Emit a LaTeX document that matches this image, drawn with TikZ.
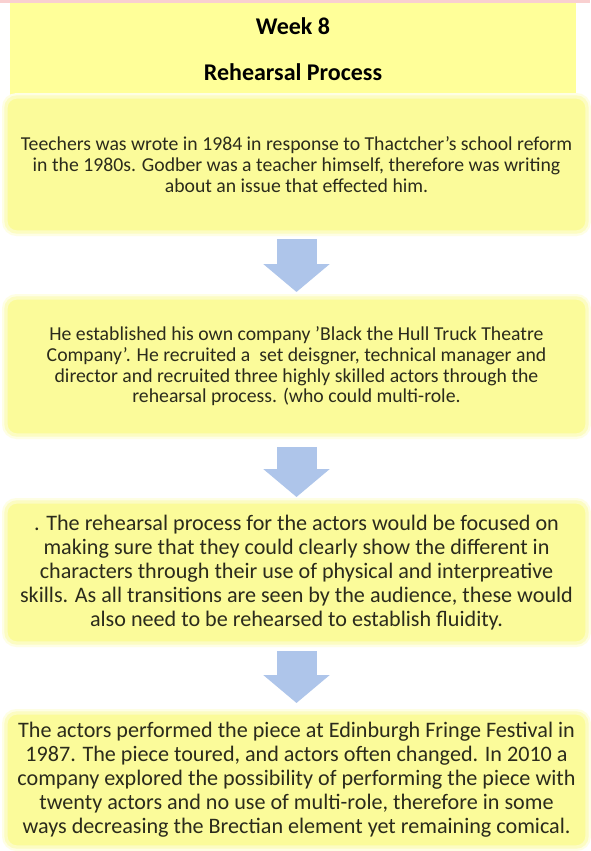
\documentclass[tikz,border=0pt]{standalone}
\usepackage{fontspec}
\setmainfont{Carlito}
\usetikzlibrary{arrows.meta}
\definecolor{titlefill}{HTML}{FFFF99}
\definecolor{boxfill}{HTML}{FBFB9A}
\definecolor{glow}{HTML}{FCFCC2}
\definecolor{glowout}{HTML}{FEFEE4}
\definecolor{arrowc}{HTML}{AEC5EA}
\definecolor{txt}{HTML}{2B2B1C}
\definecolor{pinkline}{HTML}{F9D0D0}
\begin{document}
\begin{tikzpicture}[x=0.75pt,y=-0.75pt,
  titlebox/.style={fill=titlefill, draw=none, minimum width=424.5pt, minimum height=69pt,
    align=center, inner sep=0pt, outer sep=0pt, font=\fontsize{18}{20}\selectfont\bfseries},
  stepbox/.style={fill=boxfill, draw=glow, line width=2.5pt, rounded corners=8pt,
    preaction={draw=glowout, line width=6pt},
    minimum width=435.75pt, align=center, inner sep=0pt, outer sep=0pt, text=txt},
  small/.style={font=\fontsize{14.8}{15.5}\selectfont},
  big/.style={font=\fontsize{16.6}{18}\selectfont},
  flow/.style={draw=arrowc, line width=30pt, -{Triangle[width=48.75pt,length=21pt]}}
]
\useasboundingbox (0,0) rectangle (590,851);
\fill[white] (0,0) rectangle (590,851);
\fill[pinkline] (0,0) rectangle (590,2.5);

\node[titlebox] (title) at (293,49) {Week 8\\[14.5pt]Rehearsal Process};

\node[stepbox, small, minimum height=101.25pt] (b1) at (296.5,164.5)
  {Teechers was wrote in 1984 in response to Thactcher's school reform\\
   in the 1980s. Godber was a teacher himself, therefore was writing\\
   about an issue that effected him.};

\node[stepbox, small, minimum height=102.75pt] (b2) at (296.5,366.5)
  {He established his own company 'Black the Hull Truck Theatre\\
   Company'. He recruited a~ set deisgner, technical manager and\\
   director and recruited three highly skilled actors through the\\
   rehearsal process. (who could multi-role.};

\node[stepbox, big, minimum height=105.75pt] (b3) at (296.5,572.5)
  {. The rehearsal process for the actors would be focused on\\
   making sure that they could clearly show the different in\\
   characters through their use of physical and interpreative\\
   skills. As all transitions are seen by the audience, these would\\
   also need to be rehearsed to establish fluidity.};

\node[stepbox, big, minimum height=100.5pt] (b4) at (296.5,780)
  {The actors performed the piece at Edinburgh Fringe Festival in\\
   1987. The piece toured, and actors often changed. In 2010 a\\
   company explored the possibility of performing the piece with\\
   twenty actors and no use of multi-role, therefore in some\\
   ways decreasing the Brectian element yet remaining comical.};

\draw[flow, shorten <=5.25pt, shorten >=4.5pt] (b1.south) -- (b2.north);
\draw[flow, shorten <=9pt, shorten >=3.75pt] (b2.south) -- (b3.north);
\draw[flow, shorten <=6pt, shorten >=7.5pt] (b3.south) -- (b4.north);
\end{tikzpicture}
\end{document}
